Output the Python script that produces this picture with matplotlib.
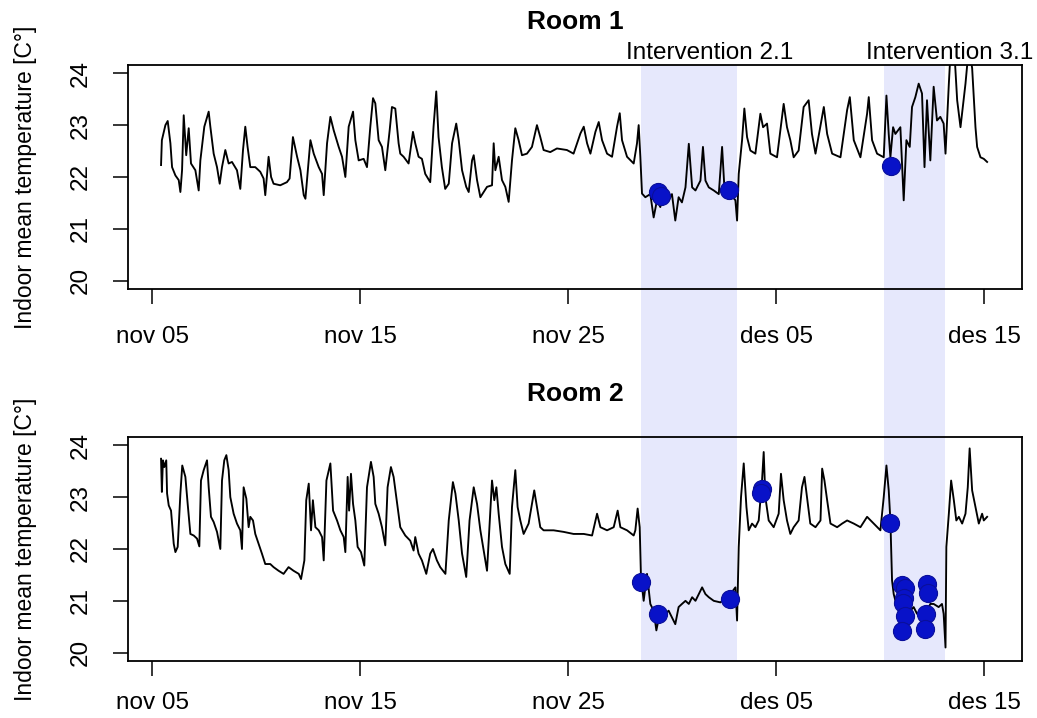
import numpy as np
import matplotlib
matplotlib.use('Agg')
import matplotlib.pyplot as plt
from matplotlib.patches import Rectangle
from matplotlib.transforms import blended_transform_factory

plt.rcParams['font.family'] = ['Liberation Sans', 'DejaVu Sans']

# time axis: days counted from 31 Oct (nov 05 = 5, des 05 = 35)
tick_days = [5, 15, 25, 35, 45]
tick_labels = ['nov 05', 'nov 15', 'nov 25', 'des 05', 'des 15']
y_ticks = [20, 21, 22, 23, 24]

# Room 1
room1_day = [5.42, 5.46, 5.63, 5.74, 5.87, 5.95, 6.11, 6.27, 6.35, 6.43, 6.51, 6.63, 6.75, 6.86, 7.07, 7.23,
             7.31, 7.50, 7.71, 7.79, 7.95, 8.11, 8.24, 8.35, 8.51, 8.67, 8.83, 9.07, 9.23, 9.36, 9.47, 9.58,
             9.71, 9.95, 10.19, 10.35, 10.43, 10.59, 10.71, 10.83, 11.15, 11.47, 11.60, 11.76, 11.96, 12.12,
             12.28, 12.36, 12.52, 12.60, 12.76, 13.00, 13.16, 13.24, 13.40, 13.56, 13.72, 13.96, 14.12, 14.28,
             14.44, 14.65, 14.76, 14.92, 15.16, 15.32, 15.48, 15.61, 15.72, 15.88, 16.04, 16.20, 16.41, 16.52,
             16.68, 16.84, 16.92,
             17.08, 17.32, 17.53, 17.64, 17.80, 17.96, 18.12, 18.36, 18.52, 18.65, 18.76, 18.92, 19.08, 19.25,
             19.41, 19.61, 19.73, 19.89, 20.09, 20.21, 20.37, 20.45, 20.61, 20.77, 21.09, 21.33, 21.41, 21.49,
             21.65, 21.81, 21.97, 22.13, 22.29, 22.45, 22.61, 22.77, 23.01, 23.25, 23.49, 23.65, 23.81, 24.13,
             24.45, 24.93, 25.25, 25.58, 25.74, 25.90, 26.06, 26.30, 26.46, 26.62, 26.86, 27.10, 27.34, 27.47,
             27.58, 27.82, 28.14, 28.30, 28.38, 28.46, 28.54,
             28.70, 28.94, 29.10, 29.26, 29.42, 29.58, 29.82, 29.98, 30.14, 30.30, 30.46, 30.63, 30.79, 30.95,
             31.11, 31.35, 31.47, 31.59, 31.75, 31.99, 32.23, 32.39, 32.50, 32.79, 33.03, 33.11, 33.19, 33.35,
             33.46, 33.59, 33.75, 33.99, 34.23, 34.36, 34.55, 34.71, 35.03, 35.35, 35.51, 35.67, 35.83, 36.07,
             36.31, 36.55, 36.71, 36.88, 37.28, 37.44, 37.68, 38.08, 38.40, 38.53, 38.72, 39.04, 39.36, 39.44,
             39.60, 39.84, 40.16, 40.29, 40.40, 40.48, 40.61, 40.72, 40.96, 41.12, 41.25, 41.41, 41.52, 41.68,
             41.84, 42.00, 42.12, 42.24, 42.40, 42.56, 42.72, 42.88, 43.04, 43.13, 43.29, 43.37, 43.53, 43.69,
             43.85, 44.09, 44.25, 44.41, 44.57, 44.65, 44.81, 44.97, 45.13]
room1_temp = [22.23, 22.71, 23.00, 23.08, 22.65, 22.19, 22.03, 21.94, 21.71, 22.13, 23.19, 22.42, 22.94, 22.26,
              22.13, 21.74, 22.32, 22.97, 23.26, 22.97, 22.45, 22.19, 21.87, 22.19, 22.52, 22.26, 22.29, 22.13,
              21.77, 22.52, 22.97, 22.58, 22.19, 22.19, 22.10, 21.97, 21.65, 22.39, 22.00, 21.87, 21.84, 21.90,
              21.97, 22.77, 22.39, 22.13, 21.65, 21.58, 22.32, 22.71, 22.45, 22.19, 22.06, 21.65, 22.65, 23.16,
              22.90, 22.58, 22.39, 22.00, 22.97, 23.26, 22.71, 22.32, 22.35, 22.19, 22.97, 23.52, 23.42, 22.71,
              22.58, 22.13, 22.90, 23.35, 23.32, 22.65, 22.45,
              22.39, 22.26, 22.87, 22.65, 22.39, 22.35, 22.06, 21.90, 22.97, 23.65, 22.77, 22.19, 21.77, 21.87,
              22.65, 23.03, 22.71, 22.13, 21.81, 21.71, 22.32, 22.42, 21.94, 21.61, 21.81, 21.84, 22.65, 22.13,
              22.39, 21.94, 21.81, 21.52, 22.32, 22.94, 22.71, 22.42, 22.45, 22.58, 23.00, 22.77, 22.52, 22.48,
              22.55, 22.52, 22.45, 22.84, 22.97, 22.65, 22.45, 22.87, 23.06, 22.71, 22.45, 22.39, 22.97, 23.23,
              22.71, 22.39, 22.26, 22.65, 23.00, 22.39, 21.68,
              21.61, 21.67, 21.22, 21.55, 21.42, 21.74, 21.55, 21.67, 21.16, 21.61, 21.51, 21.80, 22.64, 21.80,
              21.74, 21.93, 22.58, 21.93, 21.80, 21.74, 21.67, 22.58, 21.80, 21.67, 21.55, 21.16, 22.06, 22.71,
              23.32, 22.77, 22.51, 22.45, 23.22, 22.96, 23.03, 22.45, 22.38, 23.41, 22.96, 22.71, 22.38, 22.51,
              23.35, 23.48, 22.83, 22.45, 23.35, 22.83, 22.45, 22.38, 23.29, 23.54, 22.71, 22.38, 23.22, 23.54,
              22.71, 22.45, 22.38, 23.57, 22.83, 22.38, 22.96, 22.83, 22.96, 21.55, 22.71, 22.58, 23.35, 23.54,
              23.80, 23.61, 22.19, 23.48, 22.32, 23.74, 23.09, 23.16, 23.03, 22.45, 23.80, 24.40, 24.60, 23.48,
              22.96, 23.80, 24.50, 24.10, 22.96, 22.58, 22.38, 22.35, 22.29]

# Room 2
room2_day = [5.42, 5.46, 5.51, 5.58, 5.67, 5.71, 5.79, 5.90, 6.03, 6.11, 6.22, 6.35, 6.44, 6.59, 6.70, 6.83,
             6.99, 7.15, 7.26, 7.34, 7.47, 7.63, 7.71, 7.82, 7.95, 8.11, 8.27, 8.35, 8.46, 8.56, 8.67, 8.75,
             8.91, 9.07, 9.23, 9.31, 9.39, 9.52, 9.63, 9.71, 9.84, 9.95, 10.11, 10.27, 10.43, 10.67, 10.83,
             11.07, 11.31, 11.55, 11.79, 12.04, 12.15, 12.31, 12.40, 12.52, 12.63, 12.72, 12.84, 13.00, 13.16,
             13.24, 13.37, 13.56, 13.69, 13.88, 14.04, 14.20, 14.28, 14.39, 14.46, 14.55, 14.65, 14.76, 14.87,
             15.03, 15.19, 15.32, 15.51, 15.64, 15.72, 15.88, 16.04, 16.20, 16.31, 16.47, 16.60, 16.73, 16.84,
             16.92,
             17.16, 17.40, 17.56, 17.64, 17.80, 17.96, 18.17, 18.36, 18.49, 18.68, 18.84, 19.09, 19.25, 19.45,
             19.57, 19.73, 19.89, 20.09, 20.25, 20.45, 20.61, 20.77, 20.93, 21.09, 21.25, 21.33, 21.44, 21.54,
             21.65, 21.81, 21.97, 22.18, 22.29, 22.45, 22.56, 22.69, 22.85, 23.09, 23.25, 23.36, 23.49, 23.65,
             23.81, 24.29, 24.77, 25.25, 25.74, 26.14, 26.38, 26.54, 26.86, 27.18, 27.37, 27.50, 27.82, 28.14,
             28.22, 28.33, 28.43, 28.49,
             28.62, 28.78, 28.94, 29.10, 29.23, 29.42, 29.66, 29.82, 29.98, 30.14, 30.30, 30.46, 30.63, 30.79,
             30.95, 31.11, 31.27, 31.43, 31.59, 31.75, 31.99, 32.31, 32.63, 32.79, 33.03, 33.11, 33.19, 33.30,
             33.43, 33.56, 33.67, 33.83, 33.99, 34.15, 34.31, 34.39, 34.47, 34.63, 34.87, 35.11, 35.22, 35.35,
             35.51, 35.67, 35.83, 36.07, 36.23, 36.35, 36.47, 36.63, 36.88, 37.12, 37.20, 37.31, 37.44, 37.60,
             37.92, 38.16, 38.40, 38.72, 39.04, 39.36, 39.68, 40.00, 40.16, 40.29, 40.40, 40.48, 40.56, 40.64,
             40.80, 40.96, 41.12, 41.28, 41.44, 41.60, 41.76, 41.92, 42.08, 42.24, 42.40, 42.56, 42.80, 42.96,
             43.04, 43.13, 43.17, 43.29, 43.40, 43.53, 43.65, 43.77, 43.93, 44.09, 44.20, 44.29, 44.41, 44.57,
             44.73, 44.89, 44.97, 45.13]
room2_temp = [23.74, 23.10, 23.71, 23.58, 23.71, 23.07, 22.84, 22.74, 22.10, 21.94, 22.04, 23.07, 23.61, 23.39,
              22.87, 22.29, 22.26, 22.20, 22.05, 23.32, 23.52, 23.71, 23.19, 22.62, 22.52, 22.33, 22.00, 23.32,
              23.71, 23.81, 23.52, 23.00, 22.68, 22.49, 22.36, 22.00, 23.19, 22.97, 22.42, 22.62, 22.55, 22.29,
              22.10, 21.91, 21.71, 21.71, 21.65, 21.58, 21.52, 21.65, 21.58, 21.52, 21.42, 21.78, 22.94, 23.26,
              22.36, 22.94, 22.42, 22.36, 22.23, 21.78, 23.32, 23.65, 22.74, 22.55, 22.36, 22.23, 21.94, 23.39,
              22.74, 23.45, 22.87, 22.55, 22.04, 21.94, 21.68, 23.19, 23.68, 23.39, 22.87, 22.68, 22.42, 22.07,
              23.19, 23.58, 23.39, 23.00, 22.68, 22.42,
              22.26, 22.16, 21.97, 22.23, 21.91, 21.78, 21.52, 21.91, 22.00, 21.78, 21.65, 21.52, 22.55, 23.29,
              23.07, 22.55, 21.91, 21.46, 22.55, 23.19, 22.87, 22.36, 21.97, 21.58, 22.74, 23.32, 22.94, 23.19,
              22.68, 22.04, 21.71, 21.52, 22.81, 23.52, 22.81, 22.55, 22.29, 22.49, 22.87, 23.13, 22.81, 22.42,
              22.36, 22.36, 22.33, 22.29, 22.29, 22.26, 22.68, 22.42, 22.36, 22.42, 22.74, 22.42, 22.36, 22.26,
              22.36, 22.78, 22.42, 21.46,
              21.00, 21.52, 20.94, 20.81, 20.43, 20.81, 20.75, 20.81, 20.68, 20.55, 20.88, 20.94, 21.00, 20.94,
              21.07, 21.00, 21.13, 21.26, 21.13, 21.07, 21.00, 20.97, 21.07, 21.13, 21.26, 20.62, 22.04, 23.00,
              23.65, 22.81, 22.36, 22.49, 22.42, 22.55, 23.32, 23.87, 23.00, 22.55, 22.42, 22.68, 23.45, 22.94,
              22.55, 22.29, 22.42, 22.55, 23.19, 23.39, 23.00, 22.49, 22.42, 22.55, 23.55, 23.32, 22.94, 22.49,
              22.42, 22.49, 22.55, 22.49, 22.42, 22.62, 22.49, 22.36, 23.00, 23.61, 23.13, 22.55, 21.39, 21.13,
              20.88, 20.94, 20.81, 20.88, 20.81, 20.88, 20.75, 20.81, 20.88, 20.81, 20.94, 20.94, 20.88, 20.94,
              20.75, 20.10, 22.04, 22.68, 23.32, 22.94, 22.55, 22.62, 22.49, 22.68, 23.19, 23.94, 23.13, 22.81,
              22.49, 22.68, 22.55, 22.62]

# marked observations (blue dots)
room1_dot_day = [29.30, 29.45, 32.71, 40.51]
room1_dot_temp = [21.72, 21.64, 21.74, 22.21]
room2_dot_day = [28.51, 29.29, 32.76, 34.30, 34.28, 40.45,
                 41.05, 41.20, 41.15, 41.10, 41.20, 41.05, 42.25, 42.30, 42.20, 42.15]
room2_dot_temp = [21.36, 20.75, 21.04, 23.16, 23.08, 22.50,
                  21.30, 21.25, 21.05, 20.95, 20.70, 20.42, 21.33, 21.15, 20.75, 20.45]

# intervention periods
interv_names = ['Intervention 2.1', 'Intervention 3.1']
interv_start = [28.51, 40.15]
interv_end = [33.13, 43.10]
interv_label_day = [31.78, 43.32]

fig = plt.figure(figsize=(10.37, 7.18), dpi=100)
ax1 = fig.add_axes([0.1234, 0.5975, 0.862, 0.312])
ax2 = fig.add_axes([0.1234, 0.0794, 0.862, 0.312])

panels = [(ax1, 'Room 1', room1_day, room1_temp, room1_dot_day, room1_dot_temp),
          (ax2, 'Room 2', room2_day, room2_temp, room2_dot_day, room2_dot_temp)]

for ax, title, d, t, dd, dt in panels:
    ax.set_facecolor('none')
    ax.plot(d, t, color='black', lw=1.35, zorder=2)
    ax.scatter(dd, dt, s=170, color='#0812c8', edgecolors='#0a0f9a', linewidths=0.8, zorder=3)
    ax.set_xlim(3.83, 46.8)
    ax.set_ylim(19.84, 24.16)
    ax.set_xticks(tick_days)
    ax.set_xticklabels(tick_labels)
    ax.set_yticks(y_ticks)
    ax.set_yticklabels([str(v) for v in y_ticks], rotation=90, va='center')
    ax.tick_params(axis='both', direction='out', length=11, width=1.1, labelsize=17.5, colors='black')
    ax.tick_params(axis='y', pad=15)
    for s in ax.spines.values():
        s.set_linewidth(1.3)
    ax.set_title(title, fontsize=19, fontweight='bold', pad=26)
    ax.set_ylabel('Indoor mean temperature [C°]', fontsize=16.5, labelpad=24)

ax1.tick_params(axis='x', pad=16)
ax2.tick_params(axis='x', pad=11)

# shaded intervention bands, spanning both panels
trans = blended_transform_factory(ax1.transData, fig.transFigure)
y0 = ax2.get_position().y0
y1 = ax1.get_position().y1
for s, e in zip(interv_start, interv_end):
    fig.add_artist(Rectangle((s, y0), e - s, y1 - y0, transform=trans,
                             facecolor='#e6e8fc', edgecolor='none', zorder=-1))

for name, x in zip(interv_names, interv_label_day):
    ax1.text(x, 1.027, name, transform=ax1.get_xaxis_transform(), ha='center', va='baseline',
             fontsize=17.5, clip_on=False)

fig.savefig('out.png', dpi=100)
